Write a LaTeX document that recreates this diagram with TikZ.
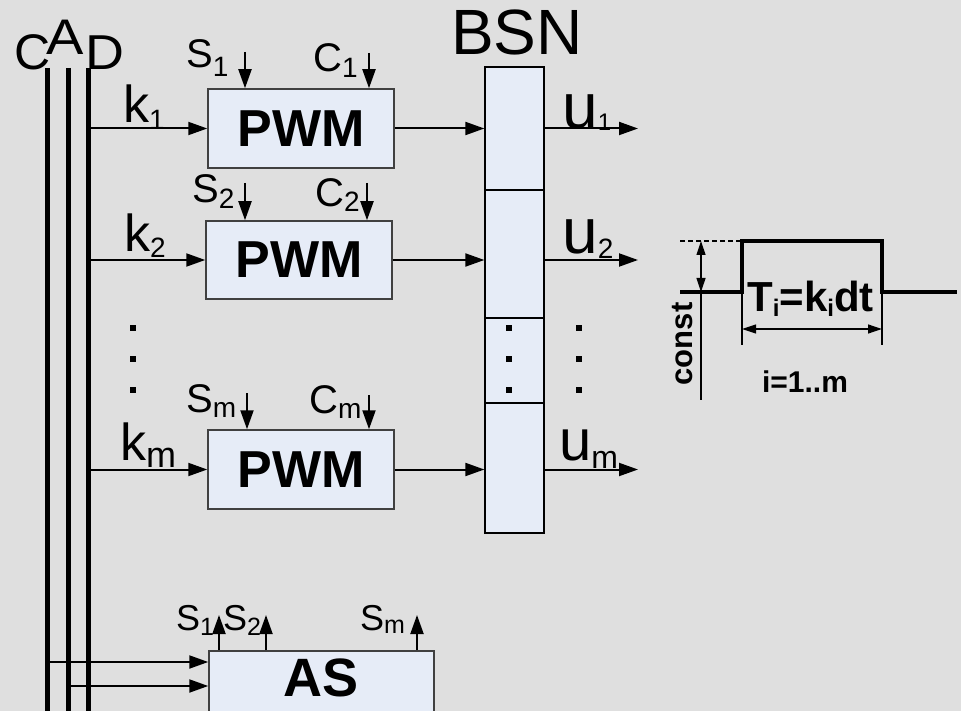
\documentclass[tikz,border=0pt]{standalone}
\usepackage{fontspec}
\setmainfont{Liberation Sans}
\usetikzlibrary{arrows.meta,positioning}
\definecolor{bgray}{RGB}{223,223,223}
\definecolor{boxfill}{RGB}{230,236,247}
\newcommand{\setfs}[1]{\fontsize{#1}{#1}\selectfont}
\newcommand{\dn}[3]{\raisebox{-#1pt}{\setfs{#2}#3}}
\newcommand{\inlbl}[3]{{\setfs{40}#1\dn{#2}{28}{#3}}}
\newcommand{\aslbl}[3]{{\setfs{36}#1\dn{#2}{25}{#3}}}

\begin{document}
\begin{tikzpicture}[
 x=1pt,y=-1pt,
 box/.style={
  draw=black!75,
  line width=1.5pt,
  fill=boxfill,
  inner sep=0pt
 },
 pwmbox/.style={box,minimum width=186pt,minimum height=79pt,font=\setfs{52}\bfseries},
 cell/.style={draw=black,line width=1.3pt,fill=boxfill,minimum width=59pt,inner sep=0pt},
 sig/.style={-{Triangle[length=19pt,width=13pt]},line width=2pt},
 bus/.style={line width=5pt},
 txt/.style={inner sep=0pt,anchor=base west},
 wave/.style={line width=3.5pt},
 dim/.style={line width=1.2pt},
 dimarr/.style={{Triangle[length=14pt,width=9pt]}-{Triangle[length=14pt,width=9pt]},line width=1.2pt}
]
 \fill[bgray] (0,0) rectangle (961,711);
 \useasboundingbox (0,0) rectangle (961,711);

 \coordinate (cTop) at (47,68);
 \coordinate (aTop) at (68,68);
 \coordinate (dTop) at (88,68);
 \draw[bus] (cTop) -- (cTop |- 0,711);
 \draw[bus] (aTop) -- (aTop |- 0,711);
 \draw[bus] (dTop) -- (dTop |- 0,711);
 \node[txt] (labC) at (14.5,70) {\setfs{50}C};
 \node[txt] (labA) at (46,55) {\scalebox{1.12}[1]{\setfs{50}A}};
 \node[txt] (labD) at (85,70) {\scalebox{1.1}[1]{\setfs{49}D}};

 \node[pwmbox] (pwm1) at (301,128.5) {PWM};
 \node[pwmbox,minimum height=78pt] (pwm2) at (299,260) {PWM};
 \node[pwmbox] (pwmm) at (301,469.5) {PWM};

 \node[inner sep=0pt,anchor=base] (bsnlab) at (517,55) {\setfs{64}BSN};
 \node[cell,minimum height=123pt] (bsn1) at (514.5,128.5) {};
 \node[cell,minimum height=128pt] (bsn2) at (514.5,254) {};
 \node[cell,minimum height=85pt]  (bsn3) at (514.5,360.5) {};
 \node[cell,minimum height=130pt] (bsn4) at (514.5,468) {};

 \draw[sig] (dTop |- pwm1.west) -- (pwm1.west);
 \draw[sig] (dTop |- pwm2.west) -- (pwm2.west);
 \draw[sig] (dTop |- pwmm.west) -- (pwmm.west);
 \node[txt] (k1) at (123,123) {\setfs{52}k\dn{7}{28}{1}};
 \node[txt] (k2) at (124,252) {\setfs{52}k\dn{6}{28}{2}};
 \node[txt] (km) at (120,460) {\setfs{52}k\dn{7}{36}{m}};

 \draw[sig] (pwm1.east) -- (pwm1.east -| bsn1.west);
 \draw[sig] (pwm2.east) -- (pwm2.east -| bsn2.west);
 \draw[sig] (pwmm.east) -- (pwmm.east -| bsn4.west);

 \coordinate (u1end) at (638,128.5);
 \coordinate (u2end) at (638,260);
 \coordinate (umend) at (638,469.5);
 \draw[sig] (bsn1.east |- u1end) -- (u1end);
 \draw[sig] (bsn2.east |- u2end) -- (u2end);
 \draw[sig] (bsn4.east |- umend) -- (umend);
 \node[txt] (u1) at (562,129) {\setfs{64}u\dn{2}{24}{1}};
 \node[txt] (u2) at (562,254) {\setfs{64}u\dn{5}{28}{2}};
 \node[txt] (um) at (559,460) {\setfs{58}u\dn{8}{32}{m}};

 \coordinate (s1in) at (245,52);
 \coordinate (c1in) at (369,53);
 \coordinate (s2in) at (245,183);
 \coordinate (c2in) at (367,183);
 \coordinate (smin) at (247,393);
 \coordinate (cmin) at (369,395);
 \draw[sig] (s1in) -- (s1in |- pwm1.north);
 \draw[sig] (c1in) -- (c1in |- pwm1.north);
 \draw[sig] (s2in) -- (s2in |- pwm2.north);
 \draw[sig] (c2in) -- (c2in |- pwm2.north);
 \draw[sig] (smin) -- (smin |- pwmm.north);
 \draw[sig] (cmin) -- (cmin |- pwmm.north);
 \node[txt] (s1) at (186,68)  {\inlbl{S}{9}{1}};
 \node[txt] (c1) at (313,72)  {\inlbl{C}{6}{1}};
 \node[txt] (s2) at (192,203) {\inlbl{S}{6}{2}};
 \node[txt] (c2) at (315,207) {\inlbl{C}{5}{2}};
 \node[txt] (sm) at (186,412) {\inlbl{S}{5}{m}};
 \node[txt] (cm) at (309,413) {\inlbl{C}{5}{m}};

 \foreach \y in {328,359,390} {
  \fill (133,\y) +(-3,-3) rectangle +(3,3);
  \fill (509,\y) +(-3,-3) rectangle +(3,3);
  \fill (579,\y) +(-3,-3) rectangle +(3,3);
 }

 \node[box,minimum width=225pt,minimum height=80pt,anchor=north] (as) at (321.5,650) {};
 \node[inner sep=0pt,font=\setfs{54}\bfseries] (aslab) at (321.5,678) {AS};
 \coordinate (asC) at ([yshift=-12pt]as.north west);
 \coordinate (asA) at ([yshift=-36pt]as.north west);
 \draw[sig] (cTop |- asC) -- (asC);
 \draw[sig] (aTop |- asA) -- (asA);
 \coordinate (as1) at (219,615);
 \coordinate (as2) at (266,615);
 \coordinate (asm) at (417,615);
 \draw[sig] (as1 |- as.north) -- (as1);
 \draw[sig] (as2 |- as.north) -- (as2);
 \draw[sig] (asm |- as.north) -- (asm);
 \node[txt] (as1lab) at (176,630) {\aslbl{S}{5}{1}};
 \node[txt] (as2lab) at (223,630) {\aslbl{S}{5}{2}};
 \node[txt] (asmlab) at (360,630) {\aslbl{S}{3}{m}};

 \draw[wave] (680,292) -- (742,292) -- (742,241) -- (882,241) -- (882,292) -- (957,292);
 \draw[dim,dash pattern=on 5pt off 3pt] (680,241) -- (742,241);
 \draw[dim] (701,292) -- (701,400);
 \draw[dimarr] (701,241) -- (701,292);
 \draw[dim] (742,292) -- (742,345);
 \draw[dim] (882,292) -- (882,345);
 \draw[dimarr] (742,329) -- (882,329);
 \node[txt] (tlab) at (747,312) {\setfs{42}\bfseries T\dn{5}{24}{i}=k\dn{5}{24}{i}dt};
 \node[inner sep=0pt,rotate=90,font=\setfs{31}\bfseries] (constlab) at (683,344) {const};
 \node[inner sep=0pt,anchor=base,font=\setfs{30}\bfseries] (irange) at (805,392) {i=1..m};
\end{tikzpicture}
\end{document}
